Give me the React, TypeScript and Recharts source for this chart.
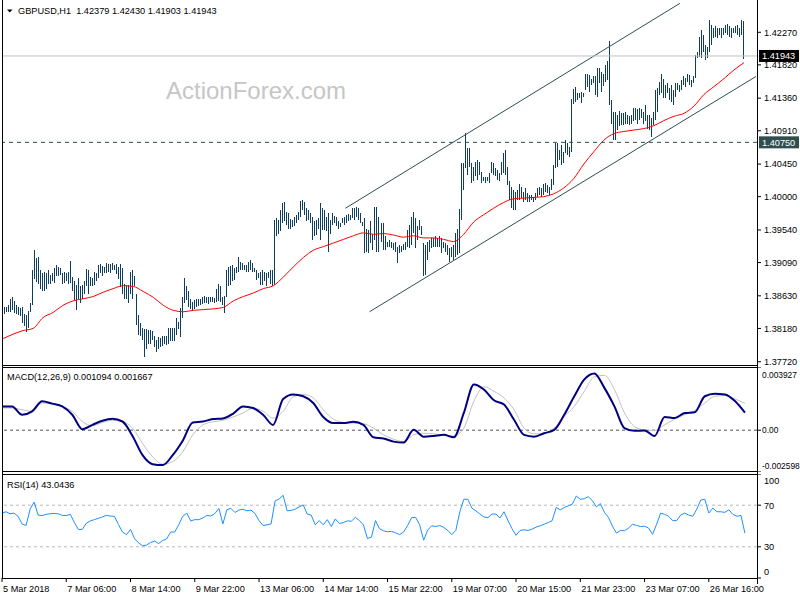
import React from 'react';
import { ComposedChart, Bar, Line, XAxis, YAxis, ReferenceLine } from 'recharts';

// ---------- data ----------
const highs = [
  1.3846,1.3848,1.3848,1.3850,1.3858,1.3861,1.3856,1.3850,1.3848,1.3846,
  1.3848,1.3838,1.3836,1.3842,1.3853,1.3899,1.3927,1.3915,1.3916,1.3899,
  1.3894,1.3896,1.3894,1.3898,1.3892,1.3894,1.3901,1.3905,1.3903,1.3901,
  1.3894,1.3896,1.3895,1.3896,1.3911,1.3889,1.3883,1.3878,1.3887,1.3876,
  1.3878,1.3883,1.3900,1.3898,1.3889,1.3887,1.3896,1.3894,1.3905,1.3907,
  1.3904,1.3903,1.3908,1.3907,1.3907,1.3908,1.3906,1.3907,1.3903,1.3907,
  1.3901,1.3880,1.3878,1.3878,1.3896,1.3898,1.3890,1.3865,1.3836,1.3825,
  1.3818,1.3817,1.3817,1.3816,1.3816,1.3815,1.3807,1.3802,1.3806,1.3805,
  1.3807,1.3807,1.3807,1.3819,1.3819,1.3819,1.3818,1.3832,1.3827,1.3846,
  1.3861,1.3887,1.3876,1.3870,1.3858,1.3855,1.3857,1.3858,1.3859,1.3858,
  1.3862,1.3863,1.3862,1.3861,1.3862,1.3861,1.3860,1.3872,1.3880,1.3876,
  1.3862,1.3863,1.3899,1.3903,1.3904,1.3905,1.3901,1.3903,1.3917,1.3910,
  1.3908,1.3906,1.3906,1.3910,1.3912,1.3909,1.3901,1.3899,1.3894,1.3896,
  1.3899,1.3896,1.3894,1.3896,1.3899,1.3899,1.3968,1.3970,1.3968,1.3982,
  1.3991,1.3993,1.3979,1.3977,1.3969,1.3968,1.3972,1.3975,1.3979,1.3994,
  1.3995,1.3992,1.3985,1.3982,1.3977,1.3972,1.3966,1.3968,1.3970,1.3991,
  1.3984,1.3982,1.3972,1.3977,1.3968,1.3977,1.3973,1.3972,1.3966,1.3963,
  1.3970,1.3972,1.3975,1.3976,1.3975,1.3984,1.3984,1.3986,1.3984,1.3977,
  1.3965,1.3970,1.3956,1.3954,1.3966,1.3949,1.3986,1.3986,1.3972,1.3963,
  1.3964,1.3945,1.3938,1.3940,1.3938,1.3936,1.3938,1.3931,1.3933,1.3932,
  1.3935,1.3937,1.3954,1.3961,1.3972,1.3979,1.3970,1.3960,1.3968,1.3959,
  1.3936,1.3933,1.3938,1.3940,1.3943,1.3943,1.3945,1.3943,1.3945,1.3943,
  1.3938,1.3936,1.3933,1.3929,1.3931,1.3933,1.3950,1.3956,1.3983,1.4046,
  1.4046,1.4088,1.4067,1.4067,1.4046,1.4041,1.4048,1.4050,1.4048,1.4034,
  1.4027,1.4027,1.4027,1.4032,1.4048,1.4046,1.4039,1.4037,1.4032,1.4048,
  1.4060,1.4065,1.4041,1.4021,1.4014,1.4009,1.4007,1.4009,1.4018,1.4014,
  1.4007,1.4012,1.4005,1.4002,1.4002,1.4000,1.4005,1.4012,1.4014,1.4012,
  1.4018,1.4019,1.4016,1.4014,1.4025,1.4044,1.4074,1.4074,1.4065,1.4071,
  1.4062,1.4078,1.4074,1.4069,1.4135,1.4149,1.4151,1.4143,1.4143,1.4145,
  1.4143,1.4169,1.4169,1.4168,1.4162,1.4167,1.4166,1.4178,1.4177,1.4172,
  1.4169,1.4182,1.4187,1.4215,1.4133,1.4117,1.4117,1.4113,1.4118,1.4115,
  1.4115,1.4117,1.4113,1.4111,1.4113,1.4122,1.4122,1.4121,1.4122,1.4121,
  1.4117,1.4126,1.4113,1.4113,1.4108,1.4117,1.4147,1.4150,1.4159,1.4170,
  1.4163,1.4154,1.4157,1.4150,1.4154,1.4147,1.4157,1.4157,1.4154,1.4161,
  1.4166,1.4164,1.4170,1.4168,1.4161,1.4166,1.4196,1.4200,1.4221,1.4230,
  1.4223,1.4210,1.4207,1.4244,1.4237,1.4233,1.4235,1.4233,1.4233,1.4233,
  1.4233,1.4237,1.4239,1.4235,1.4233,1.4233,1.4235,1.4237,1.4233,1.4244,1.4243,
];
const lows = [
  1.3829,1.3838,1.3840,1.3841,1.3840,1.3843,1.3839,1.3838,1.3837,1.3835,
  1.3826,1.3821,1.3813,1.3819,1.3841,1.3850,1.3886,1.3882,1.3880,1.3873,
  1.3870,1.3869,1.3873,1.3880,1.3880,1.3883,1.3881,1.3890,1.3890,1.3892,
  1.3880,1.3881,1.3883,1.3879,1.3881,1.3870,1.3857,1.3843,1.3858,1.3853,
  1.3859,1.3866,1.3876,1.3865,1.3876,1.3876,1.3878,1.3883,1.3888,1.3894,
  1.3890,1.3895,1.3895,1.3896,1.3894,1.3899,1.3898,1.3893,1.3886,1.3875,
  1.3866,1.3858,1.3858,1.3853,1.3865,1.3859,1.3876,1.3823,1.3809,1.3807,
  1.3802,1.3779,1.3790,1.3797,1.3797,1.3802,1.3793,1.3786,1.3790,1.3793,
  1.3794,1.3797,1.3795,1.3797,1.3800,1.3800,1.3800,1.3809,1.3817,1.3806,
  1.3832,1.3853,1.3857,1.3848,1.3845,1.3842,1.3845,1.3847,1.3849,1.3850,
  1.3852,1.3853,1.3853,1.3852,1.3854,1.3854,1.3853,1.3855,1.3856,1.3855,
  1.3850,1.3839,1.3862,1.3876,1.3878,1.3883,1.3885,1.3894,1.3896,1.3899,
  1.3899,1.3899,1.3896,1.3896,1.3899,1.3896,1.3896,1.3885,1.3887,1.3878,
  1.3878,1.3883,1.3876,1.3887,1.3880,1.3876,1.3878,1.3945,1.3949,1.3952,
  1.3963,1.3966,1.3961,1.3956,1.3955,1.3958,1.3959,1.3963,1.3968,1.3972,
  1.3982,1.3975,1.3966,1.3968,1.3963,1.3940,1.3945,1.3947,1.3956,1.3940,
  1.3954,1.3954,1.3952,1.3924,1.3949,1.3961,1.3963,1.3959,1.3956,1.3958,
  1.3963,1.3961,1.3963,1.3966,1.3968,1.3970,1.3968,1.3972,1.3968,1.3963,
  1.3960,1.3922,1.3924,1.3922,1.3936,1.3926,1.3940,1.3924,1.3924,1.3937,
  1.3926,1.3926,1.3930,1.3931,1.3929,1.3926,1.3924,1.3909,1.3922,1.3924,
  1.3926,1.3927,1.3931,1.3929,1.3933,1.3950,1.3929,1.3940,1.3954,1.3947,
  1.3890,1.3892,1.3913,1.3924,1.3929,1.3931,1.3931,1.3931,1.3931,1.3922,
  1.3929,1.3924,1.3919,1.3910,1.3917,1.3913,1.3917,1.3919,1.3922,1.3968,
  1.4009,1.4039,1.4030,1.4041,1.4019,1.4021,1.4028,1.4023,1.4030,1.4019,
  1.4021,1.4019,1.4021,1.4019,1.4032,1.4030,1.4028,1.4023,1.4021,1.4030,
  1.4032,1.4030,1.4016,1.3996,1.3984,1.3981,1.3981,1.3996,1.3996,1.3998,
  1.3993,1.3996,1.3993,1.3993,1.3996,1.3993,1.3996,1.4000,1.4002,1.4000,
  1.4002,1.4007,1.4005,1.4002,1.4009,1.4016,1.4039,1.4041,1.4051,1.4044,
  1.4046,1.4060,1.4058,1.4055,1.4062,1.4128,1.4131,1.4134,1.4136,1.4129,
  1.4138,1.4147,1.4151,1.4145,1.4154,1.4157,1.4140,1.4138,1.4157,1.4145,
  1.4153,1.4159,1.4161,1.4127,1.4101,1.4078,1.4078,1.4092,1.4097,1.4099,
  1.4099,1.4101,1.4101,1.4099,1.4101,1.4104,1.4106,1.4101,1.4106,1.4108,
  1.4101,1.4104,1.4094,1.4092,1.4083,1.4099,1.4106,1.4117,1.4140,1.4143,
  1.4136,1.4136,1.4143,1.4134,1.4131,1.4127,1.4138,1.4147,1.4145,1.4147,
  1.4154,1.4152,1.4159,1.4154,1.4152,1.4157,1.4164,1.4191,1.4193,1.4191,
  1.4200,1.4189,1.4191,1.4200,1.4210,1.4219,1.4221,1.4219,1.4223,1.4219,
  1.4223,1.4226,1.4223,1.4221,1.4219,1.4226,1.4226,1.4223,1.4221,1.4223,1.4190,
];
// indicator readings: MA / MACD / signal one every SAMPLE_STEP bars, RSI one every RSI_STEP bars
const SAMPLE_STEP = 5;
const RSI_STEP = 2;
const maValues = [
  1.3804,1.3810,1.3815,1.3818,1.3833,1.3840,1.3850,1.3856,1.3859,1.3862,
  1.3868,1.3873,1.3877,1.3876,1.3869,1.3861,1.3850,1.3843,1.3841,1.3843,
  1.3844,1.3845,1.3847,1.3856,1.3862,1.3867,1.3873,1.3877,1.3889,1.3903,
  1.3916,1.3926,1.3931,1.3936,1.3941,1.3946,1.3950,1.3948,1.3949,1.3947,
  1.3944,1.3946,1.3943,1.3943,1.3941,1.3938,1.3948,1.3965,1.3975,1.3984,
  1.3992,1.3997,1.3998,1.3999,1.4000,1.4004,1.4012,1.4025,1.4045,1.4062,
  1.4078,1.4087,1.4090,1.4092,1.4094,1.4098,1.4105,1.4111,1.4115,1.4125,
  1.4141,1.4152,1.4163,1.4175,1.4185,
];
const macdValues = [
  0.00148,0.00148,0.00096,0.00117,0.00180,0.00165,0.00148,0.00096,0.00006,0.00033,
  0.00059,0.00071,0.00054,-0.00036,-0.00155,-0.00211,-0.00217,-0.00155,-0.00065,0.00048,
  0.00054,0.00069,0.00073,0.00102,0.00148,0.00138,0.00096,0.00033,0.00194,0.00222,
  0.00211,0.00169,0.00082,0.00044,0.00044,0.00052,0.00033,-0.00044,-0.00052,-0.00071,
  -0.00077,0.00002,-0.00040,-0.00036,-0.00029,-0.00044,0.00107,0.00284,0.00253,0.00186,
  0.00159,0.00065,-0.00029,-0.00040,-0.00019,0.00002,0.00096,0.00211,0.00316,0.00353,
  0.00263,0.00148,0.00013,-0.00004,-0.00002,-0.00036,0.00082,0.00075,0.00107,0.00111,
  0.00211,0.00226,0.00222,0.00182,0.001094,
];
const signalValues = [
  0.00138,0.00138,0.00127,0.00117,0.00169,0.00163,0.00148,0.00117,0.00054,0.00027,
  0.00048,0.00061,0.00054,0.00013,-0.00082,-0.00165,-0.00211,-0.00196,-0.00134,-0.00029,
  0.00033,0.00052,0.00061,0.00082,0.00107,0.00138,0.00117,0.00075,0.00117,0.00207,
  0.00222,0.00201,0.00127,0.00069,0.00048,0.00044,0.00040,0.00013,-0.00029,-0.00056,
  -0.00071,-0.00029,-0.00019,-0.00023,-0.00031,-0.00036,0.00013,0.00180,0.00270,0.00242,
  0.00201,0.00127,0.00013,-0.00023,-0.00019,0.00013,0.00086,0.00148,0.00242,0.00332,
  0.00341,0.00253,0.00107,0.00023,0.00002,-0.00002,0.00033,0.00069,0.00096,0.00123,
  0.00169,0.00211,0.00215,0.00194,0.001667,
];
const rsiValues = [
  62.4,63.7,61.8,62.4,59.3,52,50.5,66.2,73,60.5,
  60,61.2,61.8,62,61.8,60.2,60,61.2,53.6,46.7,
  46.7,52.7,54.9,56.1,57.4,58.7,60.2,59.6,59.3,51.4,
  44.2,41.7,46.7,37.9,33.8,31,31.6,34.1,35.4,33.1,
  36,37.6,44.2,44.2,51.1,59.3,62.4,54.9,56.1,56.1,
  57.7,60.2,59.6,62,66.9,52,65.6,66.9,63,65.3,
  66.2,64.6,65.3,62,55.2,50.5,51.1,52,74.1,76,
  79.5,64.6,65,66.2,68.4,70.3,61.5,60.5,51.1,55.2,
  51.1,56.1,49.5,56.8,52.4,53.3,54.9,54.6,58.3,55.2,
  51.1,37.9,39.4,55.2,47.3,45.4,44.5,44.8,43.5,41.7,
  44.2,50.5,58,58.3,51.1,36.3,46.1,50.2,49.5,50.5,
  48.6,45.7,41.7,45.7,63.7,75.7,75.7,67.2,64.6,61.5,
  58.7,58,61.5,61.5,57.7,63.7,55.2,47.3,41,45.7,
  46.4,45.7,47,48.9,50.2,51.7,53.3,55.2,67.8,65.6,
  67.8,69.4,70.9,78.8,75.7,76.3,78.2,74.4,68.4,71.6,
  63.1,58.3,49.8,43.2,45.7,45.4,48,51.7,50.5,49.5,
  49.8,48,42,51.7,62.4,61.2,59.3,55.2,55.2,60.5,
  62.4,60.5,59.3,66.2,75,75.7,62.4,67.2,63.7,63.7,
  63.1,65.6,61.2,59.3,60.2,43.0436,
];
const EXTRA_SLOTS = 6; // empty space right of last bar
const priceTicks = [1.3772,1.3818,1.3863,1.3909,1.3954,1.4,1.4045,1.4091,1.4136,1.4182,1.4227];
const priceDomain = [1.37661, 1.42716];
const macdDomain = [-0.002598, 0.003927];
const macdTicks = [-0.002598, 0, 0.003927];
const rsiTicks = [0, 30, 70, 100];
const rsiLevels = [30, 70];
const dateIdx = [0,32,64,96,128,160,192,224,256,288,320,352];
const dateLabels = ['5 Mar 2018','7 Mar 06:00','8 Mar 14:00','9 Mar 22:00','13 Mar 06:00','14 Mar 14:00','15 Mar 22:00','19 Mar 07:00','20 Mar 15:00','21 Mar 23:00','23 Mar 07:00','26 Mar 16:00'];
const lastClose = 1.41943;
const levelLine = 1.4075;
const upperChannel = [{ i: 171, p: 1.3984 }, { i: 338, p: 1.4267 }];
const lowerChannel = [{ i: 183, p: 1.3841 }, { i: 376, p: 1.4166 }];
const titleText = 'GBPUSD,H1  1.42379 1.42430 1.41903 1.41943';
const macdTitle = 'MACD(12,26,9) 0.001094 0.001667';
const rsiTitle = 'RSI(14) 43.0436';

// ---------- table ----------
const N = highs.length + EXTRA_SLOTS;
const sample = (arr: number[], i: number, step: number) =>
  i % step === 0 && i / step < arr.length ? arr[i / step] : null;
const rows = Array.from({ length: N }, (_, i) => ({
  i,
  range: i < highs.length ? [lows[i], highs[i]] : null,
  ma: sample(maValues, i, SAMPLE_STEP),
  macd: sample(macdValues, i, SAMPLE_STEP),
  signal: sample(signalValues, i, SAMPLE_STEP),
  rsi: sample(rsiValues, i, RSI_STEP),
}));

const FONT = "'Liberation Sans', Arial, sans-serif";
const FS = 9.2;
const BAR_COLOR = '#0f3d5e';
const SLATE = '#2f4f4f';

const BarShape = (p: any) => {
  let { x, y, width, height } = p;
  if (x == null || y == null || isNaN(y)) return null;
  if (height < 0) { y += height; height = -height; }
  const cx = Math.round(x + width / 2);
  return <rect x={cx - 1} y={y} width={1} height={Math.max(height, 1)} fill={BAR_COLOR} shapeRendering="crispEdges" />;
};

const makeYTick = (fmt: (v: number) => string, offset: (v: number) => number, dx = 0, fs = FS) => (p: any) => {
  const { x, y, payload } = p;
  const v = payload.value;
  return (
    <g>
      <line x1={x - 7} x2={x - 3} y1={y} y2={y} stroke="#000" />
      <text x={x + dx} y={y + offset(v) + 3.3} fontSize={fs} fontFamily={FONT} fill="#000">{fmt(v)}</text>
    </g>
  );
};
const PriceTick = makeYTick((v) => v.toFixed(5), () => 0);
const MacdTick = makeYTick(
  (v) => (v === 0 ? '0.00' : v.toFixed(6)),
  (v) => (v === macdDomain[1] ? 8 : v === macdDomain[0] ? -6 : 0),
  -2,
  8.4
);
const RsiTick = makeYTick((v) => String(v), (v) => (v === 100 ? 7 : v === 0 ? -6 : 0));

const DateTick = (p: any) => {
  const { x, y, payload } = p;
  const k = dateIdx.indexOf(payload.value);
  if (k < 0) return null;
  return (
    <g>
      <line x1={x} x2={x} y1={y - 4} y2={y} stroke="#000" />
      <text x={x + 1} y={y + 10} fontSize={FS} fontFamily={FONT} fill="#000">{dateLabels[k]}</text>
    </g>
  );
};

const PriceTag = (p: any) => {
  const vb = p.viewBox || {};
  const x = vb.x + vb.width + 2;
  const y = vb.y;
  return (
    <g>
      <rect x={x} y={y - 6} width={40} height={12} fill={p.bg} />
      <text x={x + 3} y={y + 3.5} fontSize={FS} fontFamily={FONT} fill={p.fg}>{p.text}</text>
    </g>
  );
};

const MARGIN = { top: 0, right: 0, bottom: 0, left: 2 };

export default function App() {
  return (
    <div style={{ position: 'absolute', left: 0, top: 0, width: 800, height: 600, background: '#fff', overflow: 'hidden' }}>
      {/* price panel */}
      <div style={{ position: 'absolute', left: 0, top: 0 }}>
        <ComposedChart width={800} height={366} data={rows} margin={MARGIN} barCategoryGap={0}>
          <XAxis dataKey="i" hide />
          <YAxis orientation="right" width={43} type="number" domain={priceDomain} allowDataOverflow
            ticks={priceTicks} interval={0} axisLine={false} tickLine={false} tickSize={4} tickMargin={3} tick={PriceTick} />
          <Bar dataKey="range" shape={BarShape} isAnimationActive={false} />
          <Line dataKey="ma" type="monotone" stroke="#ff0000" strokeWidth={1} dot={false} connectNulls isAnimationActive={false} />
          <ReferenceLine segment={[{ x: upperChannel[0].i, y: upperChannel[0].p }, { x: upperChannel[1].i, y: upperChannel[1].p }]} stroke={SLATE} strokeWidth={1} />
          <ReferenceLine segment={[{ x: lowerChannel[0].i, y: lowerChannel[0].p }, { x: lowerChannel[1].i, y: lowerChannel[1].p }]} stroke={SLATE} strokeWidth={1} />
          <ReferenceLine y={lastClose} stroke="#c0c0c0" strokeWidth={1}
            label={<PriceTag text={lastClose.toFixed(5)} bg="#000" fg="#fff" />} />
          <ReferenceLine y={levelLine} stroke={SLATE} strokeWidth={1} strokeDasharray="4 4"
            label={<PriceTag text={levelLine.toFixed(5)} bg={SLATE} fg="#fff" />} />
        </ComposedChart>
      </div>
      {/* MACD panel */}
      <div style={{ position: 'absolute', left: 0, top: 367 }}>
        <ComposedChart width={800} height={105} data={rows} margin={MARGIN}>
          <XAxis dataKey="i" hide />
          <YAxis orientation="right" width={43} type="number" domain={macdDomain} allowDataOverflow
            ticks={macdTicks} interval={0} axisLine={false} tickLine={false} tickSize={4} tickMargin={3} tick={MacdTick} />
          <ReferenceLine y={0} stroke="#555" strokeDasharray="3 3" />
          <Line dataKey="signal" type="monotone" stroke="#c0c0c0" strokeWidth={1} dot={false} connectNulls isAnimationActive={false} />
          <Line dataKey="macd" type="monotone" stroke="#000080" strokeWidth={2} dot={false} connectNulls isAnimationActive={false} />
        </ComposedChart>
      </div>
      {/* RSI panel */}
      <div style={{ position: 'absolute', left: 0, top: 474 }}>
        <ComposedChart width={800} height={126} data={rows} margin={MARGIN}>
          <XAxis dataKey="i" height={22} ticks={dateIdx} interval={0} axisLine={false} tickLine={false} tickSize={4} tickMargin={0} tick={DateTick} />
          <YAxis orientation="right" width={43} type="number" domain={[0, 100]} allowDataOverflow
            ticks={rsiTicks} interval={0} axisLine={false} tickLine={false} tickSize={4} tickMargin={3} tick={RsiTick} />
          {rsiLevels.map((lv) => (
            <ReferenceLine key={lv} y={lv} stroke="#b8b8b8" strokeDasharray="3 3" />
          ))}
          <Line dataKey="rsi" type="linear" stroke="#1e90ff" strokeWidth={1} dot={false} connectNulls isAnimationActive={false} />
        </ComposedChart>
      </div>
      {/* frame, titles, watermark */}
      <svg width={800} height={600} style={{ position: 'absolute', left: 0, top: 0, pointerEvents: 'none' }}>
        <g stroke="#000" strokeWidth={1} shapeRendering="crispEdges">
          <line x1={2.5} x2={2.5} y1={0} y2={579} />
          <line x1={757.5} x2={757.5} y1={0} y2={584} />
          <line x1={2} x2={758} y1={365.5} y2={365.5} />
          <line x1={2} x2={758} y1={367.5} y2={367.5} />
          <line x1={2} x2={758} y1={471.5} y2={471.5} />
          <line x1={2} x2={758} y1={474.5} y2={474.5} />
          <line x1={2} x2={758} y1={578.5} y2={578.5} />
        </g>
        <polygon points="7,9.5 12.5,9.5 9.75,12.5" fill="#000" />
        <text x={18} y={14} fontSize={FS} fontFamily={FONT} fill="#000" style={{ whiteSpace: 'pre' }}>{titleText}</text>
        <text x={7} y={380} fontSize={FS} fontFamily={FONT} fill="#000">{macdTitle}</text>
        <text x={7} y={487.5} fontSize={FS} fontFamily={FONT} fill="#000">{rsiTitle}</text>
        <text x={166} y={98.5} fontSize={24} fontFamily={FONT} fill="#c6c6c6">ActionForex.com</text>
      </svg>
    </div>
  );
}
